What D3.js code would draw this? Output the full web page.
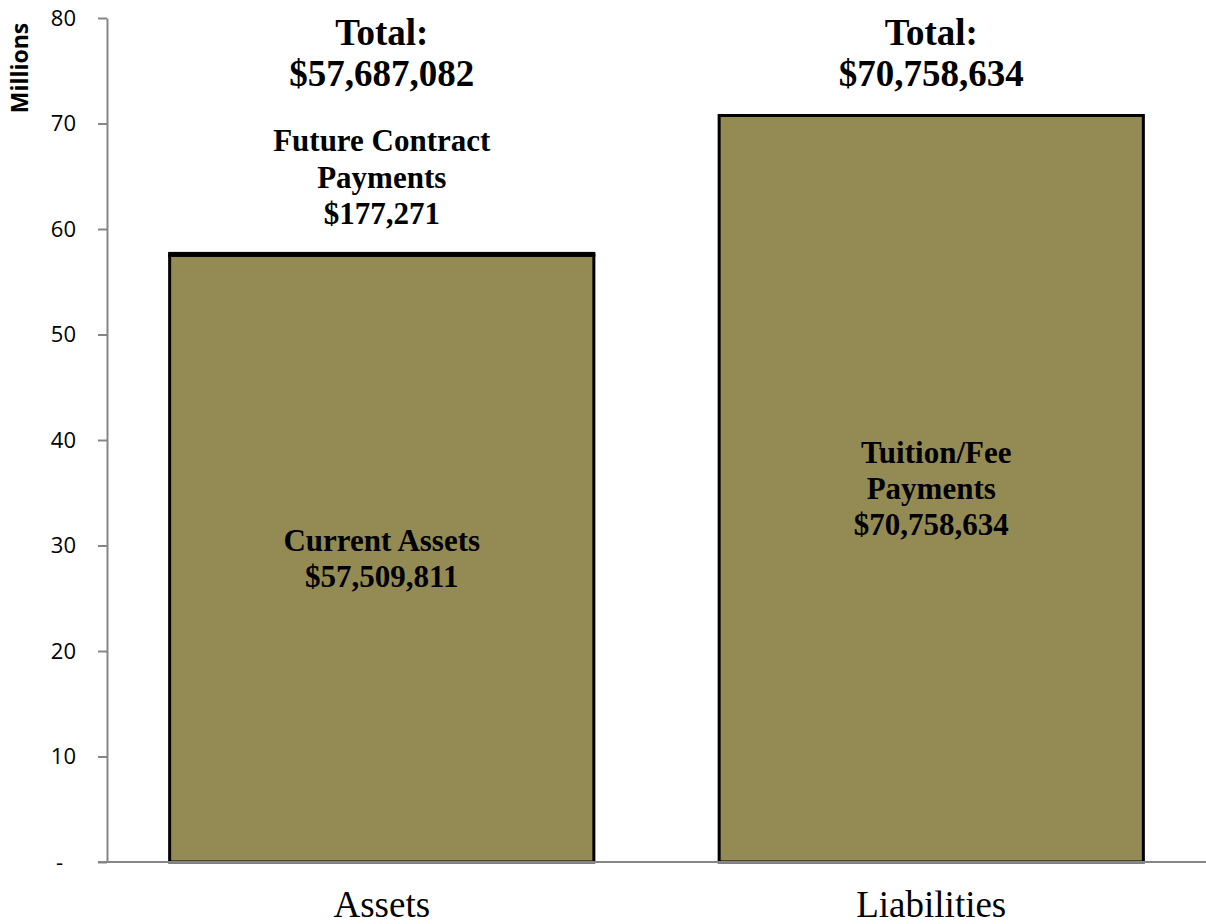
<!DOCTYPE html>
<html>
<head>
<meta charset="utf-8">
<script src="https://d3js.org/d3.v7.min.js"></script>
<style>
  body { margin: 0; background: #fff; }
  svg { display: block; }
</style>
</head>
<body>
<svg></svg>
<script>
// chart values (dollars)
var categories = ["Assets", "Liabilities"];
var baseValues = [57509811, 70758634];     // Current Assets / Tuition-Fee Payments
var topValues = [177271, 0];               // Future Contract Payments
var baseLabels = [["Current Assets", "$57,509,811"], ["Tuition/Fee", "Payments", "$70,758,634"]];
var topLabels = [["Future Contract", "Payments", "$177,271"], []];
var totalLabels = [["Total:", "$57,687,082"], ["Total:", "$70,758,634"]];
var yTicks = [0, 10, 20, 30, 40, 50, 60, 70, 80];

var svgWidth = 1206, svgHeight = 924;
var plotLeft = 107, plotTop = 18, plotBottom = 862;

var svg = d3.select("svg")
  .attr("width", svgWidth)
  .attr("height", svgHeight);

var x = d3.scaleBand()
  .domain(categories)
  .range([plotLeft, svgWidth])
  .paddingInner(0.228)
  .paddingOuter(0.114);

var y = d3.scaleLinear()
  .domain([0, 80])
  .range([plotBottom, plotTop]);

// y axis
var yAxis = svg.append("g")
  .attr("transform", "translate(" + plotLeft + ",0)")
  .call(d3.axisLeft(y)
    .tickValues(yTicks)
    .tickSize(9)
    .tickSizeOuter(0)
    .tickPadding(0)
    .tickFormat(function(d) { return d === 0 ? "-" : d; }));

yAxis.select(".domain").attr("stroke", "#868686").attr("stroke-width", 2);
yAxis.selectAll(".tick line").attr("stroke", "#868686").attr("stroke-width", 2);
yAxis.selectAll(".tick text")
  .attr("x", -31)
  .attr("fill", "#000")
  .style("font-family", "'Open Sans', sans-serif")
  .style("font-size", "22px");
yAxis.selectAll(".tick text").filter(function(d) { return d === 0; })
  .attr("x", -44);

svg.append("text")
  .attr("transform", "translate(28,68) rotate(-90)")
  .attr("text-anchor", "middle")
  .style("font-family", "'Open Sans', sans-serif")
  .style("font-weight", "bold")
  .style("font-size", "23px")
  .text("Millions");

// bars (stacked)
var m = 1e6;
svg.selectAll("rect.base")
  .data(categories)
  .enter()
  .append("rect")
  .attr("class", "base")
  .attr("x", function(d) { return x(d); })
  .attr("width", x.bandwidth())
  .attr("y", function(d, i) { return y(baseValues[i] / m); })
  .attr("height", function(d, i) { return y(0) - y(baseValues[i] / m); })
  .attr("fill", "#948A54")
  .attr("stroke", "#000")
  .attr("stroke-width", 3);

svg.selectAll("rect.top")
  .data(categories.filter(function(d, i) { return topValues[i] > 0; }))
  .enter()
  .append("rect")
  .attr("class", "top")
  .attr("x", function(d) { return x(d); })
  .attr("width", x.bandwidth())
  .attr("y", function(d) {
    var i = categories.indexOf(d);
    return y((baseValues[i] + topValues[i]) / m);
  })
  .attr("height", function(d) {
    var i = categories.indexOf(d);
    return y(baseValues[i] / m) - y((baseValues[i] + topValues[i]) / m);
  })
  .attr("fill", "#948A54")
  .attr("stroke", "#000")
  .attr("stroke-width", 3);

// category axis
svg.append("line")
  .attr("x1", 98).attr("x2", svgWidth)
  .attr("y1", plotBottom).attr("y2", plotBottom)
  .attr("stroke", "#868686")
  .attr("stroke-width", 2);

var xAxis = svg.append("g")
  .attr("transform", "translate(0," + plotBottom + ")")
  .call(d3.axisBottom(x).tickSize(0).tickPadding(0));
xAxis.select(".domain").remove();
xAxis.selectAll(".tick text")
  .attr("y", 55)
  .attr("dy", 0)
  .attr("fill", "#000")
  .style("font-family", "'Liberation Serif', 'Times New Roman', serif")
  .style("font-size", "37px");

// text blocks
function block(cx, cy, lines, size, lineH) {
  var t = svg.append("text")
    .attr("text-anchor", "middle")
    .style("font-family", "'Liberation Serif', 'Times New Roman', serif")
    .style("font-weight", "bold")
    .style("font-size", size + "px");
  var first = cy - (lines.length - 1) * lineH / 2;
  lines.forEach(function(s, k) {
    t.append("tspan")
      .attr("x", cx + (s === "Tuition/Fee" ? 5 : 0))
      .attr("y", first + k * lineH)
      .attr("dominant-baseline", "central")
      .text(s);
  });
}

categories.forEach(function(c, i) {
  var cx = x(c) + x.bandwidth() / 2;
  block(cx, y(baseValues[i] / m / 2), baseLabels[i], 31, 36);
  if (topLabels[i].length) {
    block(cx, y((baseValues[i] + topValues[i]) / m) - 76, topLabels[i], 31, 36.5);
  }
  block(cx, 53, totalLabels[i], 37, 41);
});
</script>
</body>
</html>
